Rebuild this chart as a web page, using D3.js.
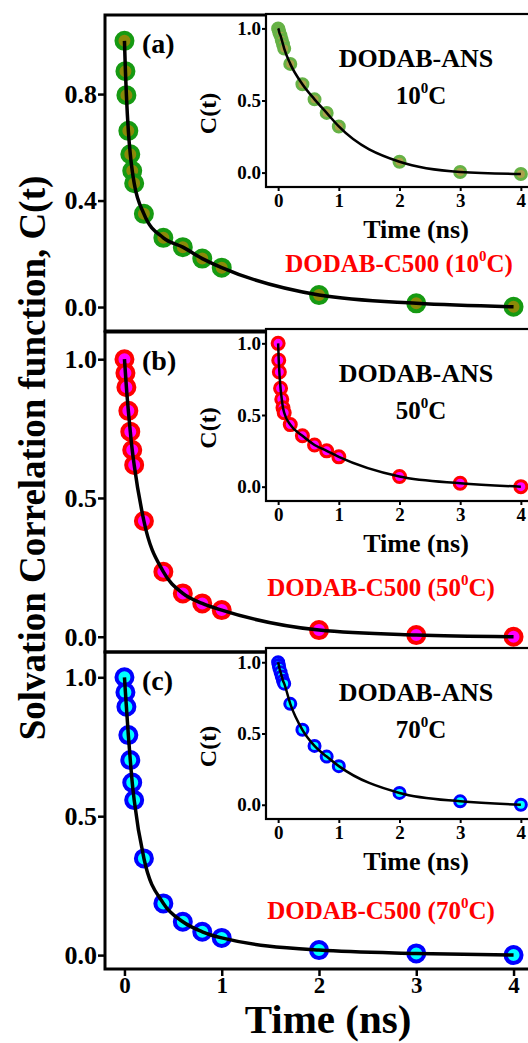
<!DOCTYPE html>
<html>
<head>
<meta charset="utf-8">
<script src="https://cdn.jsdelivr.net/npm/d3@7"></script>
<style>
  body { margin: 0; background: #fff; }
  text { font-family: "Liberation Serif", "Times New Roman", serif; font-weight: bold; }
</style>
</head>
<body>
<div id="container"></div>
<script>
// time points (ns)
var times = [0, 0.01, 0.02, 0.04, 0.06, 0.08, 0.1, 0.2, 0.4, 0.6, 0.8, 1, 2, 3, 4];

// DODAB-C500 (main panels)
var c500_10 = [1.0, 0.886, 0.796, 0.662, 0.574, 0.512, 0.465, 0.35, 0.26, 0.225, 0.182, 0.148, 0.045, 0.014, 0.001];
var c500_50 = [1.0, 0.95, 0.899, 0.814, 0.739, 0.673, 0.619, 0.417, 0.234, 0.156, 0.12, 0.096, 0.024, 0.006, 0.0];
var c500_70 = [1.0, 0.946, 0.894, 0.792, 0.702, 0.621, 0.558, 0.348, 0.186, 0.12, 0.084, 0.062, 0.018, 0.006, 0.0];

// DODAB-ANS (insets)
var ans_10 = [1.0, 0.99, 0.97, 0.95, 0.92, 0.89, 0.86, 0.754, 0.613, 0.508, 0.414, 0.32, 0.075, 0.004, -0.01];
var ans_50 = [1.0, 0.882, 0.80, 0.686, 0.61, 0.551, 0.516, 0.433, 0.355, 0.291, 0.25, 0.208, 0.071, 0.024, 0.0];
var ans_70 = [1.0, 0.98, 0.96, 0.93, 0.9, 0.87, 0.85, 0.708, 0.526, 0.413, 0.338, 0.271, 0.083, 0.024, 0.0];

var temps = ["10", "50", "70"];
var tags = ["(a)", "(b)", "(c)"];
var mainTicksA = [0, 0.4, 0.8];
var mainTicksBC = [0, 0.5, 1.0];
var insetTicks = [0, 0.5, 1.0];
var xTicks = [0, 1, 2, 3, 4];

// layout (pixels)
var panels = [
  { main: c500_10, inset: ans_10, top: 15, bottom: 331, yDom: [-0.09, 1.097], ticks: mainTicksA,
    iTop: 14, iBottom: 187, redX: 399, redY: 263,
    fill: "#8a8a08", stroke: "#169a12", iFill: "#aaa24c", iStroke: "#66b246", iR: 5.5 },
  { main: c500_50, inset: ans_50, top: 332, bottom: 652, yDom: [-0.055, 1.098], ticks: mainTicksBC,
    iTop: 329, iBottom: 501, redX: 381, redY: 587,
    fill: "#ff00ff", stroke: "#ff0000", iFill: "#ff00ff", iStroke: "#ff0000", iR: 6 },
  { main: c500_70, inset: ans_70, top: 652, bottom: 969, yDom: [-0.05, 1.091], ticks: mainTicksBC,
    iTop: 648, iBottom: 819, redX: 381, redY: 910,
    fill: "#00ffff", stroke: "#0000ff", iFill: "#00ffff", iStroke: "#0000ff", iR: 5.5 }
];

var width = 528, height = 1043;
var svg = d3.select("#container").append("svg")
  .attr("width", width).attr("height", height);
svg.append("rect").attr("width", width).attr("height", height).attr("fill", "#fff");

var x = d3.scaleLinear().domain([-0.2, 4.2]).range([105, 533]);
var xi = d3.scaleLinear().domain([-0.2, 4.2]).range([266, 533]);

function supText(g, cx, cy, pre, size, color) {
  var t = g.append("text")
    .attr("x", cx).attr("y", cy).attr("dy", "0.35em")
    .attr("text-anchor", "middle")
    .attr("font-size", size).attr("fill", color);
  t.append("tspan").text(pre);
  t.append("tspan").attr("dy", -size * 0.42).attr("font-size", size * 0.6).text("0");
  t.append("tspan").attr("dy", size * 0.42).text("C" + (color === "red" ? ")" : ""));
  return t;
}

panels.forEach(function (p, i) {
  var y = d3.scaleLinear().domain(p.yDom).range([p.bottom, p.top]);
  var g = svg.append("g");

  // main frame
  g.append("rect")
    .attr("x", x.range()[0]).attr("y", p.top)
    .attr("width", x.range()[1] - x.range()[0]).attr("height", p.bottom - p.top)
    .attr("fill", "none").attr("stroke", "#000").attr("stroke-width", 3);

  // y axis
  var yAxis = d3.axisLeft(y).tickValues(p.ticks).tickFormat(d3.format(".1f"))
    .tickSize(7).tickSizeOuter(0).tickPadding(1);
  var ya = g.append("g").attr("transform", "translate(" + x.range()[0] + ",0)").call(yAxis);
  ya.select(".domain").remove();
  ya.selectAll("line").attr("stroke-width", 2.5);
  ya.selectAll("text").attr("font-size", 26).attr("font-family", null);

  // x axis only on the last panel
  if (i === 2) {
    var xAxis = d3.axisBottom(x).tickValues(xTicks).tickFormat(d3.format("d"))
      .tickSize(7).tickSizeOuter(0).tickPadding(1);
    var xa = g.append("g").attr("transform", "translate(0," + p.bottom + ")").call(xAxis);
    xa.select(".domain").remove();
    xa.selectAll("line").attr("stroke-width", 2.5);
    xa.selectAll("text").attr("font-size", 23).attr("font-family", null);
  }

  // markers
  g.selectAll("circle.m").data(p.main).enter().append("circle")
    .attr("class", "m")
    .attr("cx", function (d, k) { return x(times[k]); })
    .attr("cy", function (d) { return y(d); })
    .attr("r", 8)
    .attr("fill", p.fill).attr("stroke", p.stroke).attr("stroke-width", 4);

  var line = d3.line()
    .x(function (d, k) { return x(times[k]); })
    .y(function (d) { return y(d); })
    .curve(d3.curveMonotoneX);
  g.append("path").attr("d", line(p.main))
    .attr("fill", "none").attr("stroke", "#000").attr("stroke-width", 3.5);

  // panel tag
  g.append("text").attr("x", 142).attr("y", p.top + 28).attr("dy", "0.35em")
    .attr("font-size", 28).text(tags[i]);

  // red label
  supText(g, p.redX, p.redY, "DODAB-C500 (" + temps[i], 25, "red");

  // ---- inset ----
  var yi = d3.scaleLinear().domain([-0.1, 1.1]).range([p.iBottom, p.iTop]);
  var ig = svg.append("g");
  ig.append("rect")
    .attr("x", xi.range()[0]).attr("y", p.iTop)
    .attr("width", xi.range()[1] - xi.range()[0]).attr("height", p.iBottom - p.iTop)
    .attr("fill", "#fff").attr("stroke", "#000").attr("stroke-width", 2.2);

  var iyAxis = d3.axisLeft(yi).tickValues(insetTicks).tickFormat(d3.format(".1f"))
    .tickSize(4).tickSizeOuter(0).tickPadding(1);
  var iya = ig.append("g").attr("transform", "translate(" + xi.range()[0] + ",0)").call(iyAxis);
  iya.select(".domain").remove();
  iya.selectAll("line").attr("stroke-width", 2);
  iya.selectAll("text").attr("font-size", 19).attr("font-family", null);

  var ixAxis = d3.axisBottom(xi).tickValues(xTicks).tickFormat(d3.format("d"))
    .tickSize(4).tickSizeOuter(0).tickPadding(3);
  var ixa = ig.append("g").attr("transform", "translate(0," + p.iBottom + ")").call(ixAxis);
  ixa.select(".domain").remove();
  ixa.selectAll("line").attr("stroke-width", 2);
  ixa.selectAll("text").attr("font-size", 19).attr("font-family", null);

  ig.selectAll("circle.i").data(p.inset).enter().append("circle")
    .attr("class", "i")
    .attr("cx", function (d, k) { return xi(times[k]); })
    .attr("cy", function (d) { return yi(d); })
    .attr("r", p.iR)
    .attr("fill", p.iFill).attr("stroke", p.iStroke).attr("stroke-width", 3);

  var iline = d3.line()
    .x(function (d, k) { return xi(times[k]); })
    .y(function (d) { return yi(d); })
    .curve(d3.curveMonotoneX);
  ig.append("path").attr("d", iline(p.inset))
    .attr("fill", "none").attr("stroke", "#000").attr("stroke-width", 2.5);

  ig.append("text").attr("x", 416).attr("y", p.iTop + 44).attr("dy", "0.35em")
    .attr("text-anchor", "middle").attr("font-size", 26).text("DODAB-ANS");
  supText(ig, 421, p.iTop + 81, temps[i], 25, "#000");

  ig.append("text").attr("x", 416).attr("y", p.iBottom + 42).attr("dy", "0.35em")
    .attr("text-anchor", "middle").attr("font-size", 26).text("Time (ns)");
  ig.append("text")
    .attr("transform", "translate(208," + ((p.iTop + p.iBottom) / 2 + 13) + ") rotate(-90)")
    .attr("dy", "0.35em").attr("text-anchor", "middle").attr("font-size", 24).text("C(t)");
});

// axis titles
svg.append("text").attr("x", 328).attr("y", 1019).attr("dy", "0.35em")
  .attr("text-anchor", "middle").attr("font-size", 41).text("Time (ns)");
svg.append("text")
  .attr("transform", "translate(32,458) rotate(-90)")
  .attr("dy", "0.35em").attr("text-anchor", "middle").attr("font-size", 37)
  .text("Solvation Correlation function, C(t)");
</script>
</body>
</html>
